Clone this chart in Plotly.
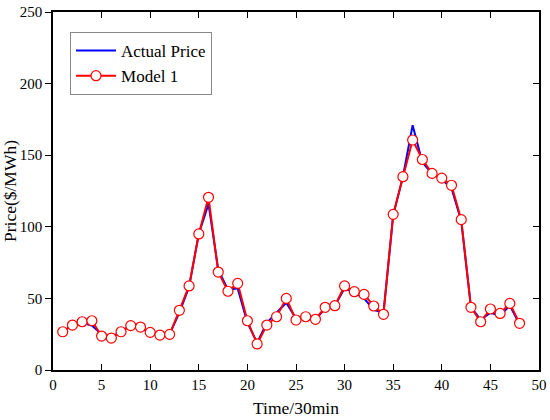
import plotly.graph_objects as go

# half-hour periods 1..48
periods = list(range(1, 49))

actual_price = [
    27, 31, 33, 31, 25, 23, 27, 31, 29, 27, 24, 25,
    40, 58, 95, 116, 70, 56, 57, 33, 19, 33, 40, 47,
    36, 38, 35, 43, 45, 57, 54, 50, 42, 40, 108, 135,
    171, 145, 137, 133, 127, 104, 44, 35, 40, 38, 45, 32,
]

model_1 = [
    26.7, 31.4, 33.7, 34.4, 23.7, 22.3, 26.7, 31.0, 30.0, 26.3, 24.4, 24.9,
    41.7, 58.7, 95.0, 120.6, 68.4, 55.0, 60.5, 34.4, 18.2, 31.4, 37.2, 50.0,
    34.9, 37.2, 35.4, 43.8, 44.9, 58.7, 54.7, 52.8, 44.7, 38.9, 108.7, 135.0,
    160.6, 147.0, 137.3, 134.0, 129.0, 105.0, 43.8, 33.7, 42.6, 39.5, 46.5, 32.6,
]

FONT = "Liberation Serif, Times New Roman, serif"

fig = go.Figure()
fig.add_trace(go.Scatter(
    x=periods, y=actual_price, name="Actual Price", mode="lines",
    line=dict(color="#0000ff", width=2),
))
fig.add_trace(go.Scatter(
    x=periods, y=model_1, name="Model 1", mode="lines+markers",
    line=dict(color="#ff0000", width=2),
    marker=dict(symbol="circle", size=10, color="white",
                line=dict(color="#ff0000", width=1.2)),
))
# invisible trace to carry right-hand inward ticks
fig.add_trace(go.Scatter(x=[None], y=[None], yaxis="y2", showlegend=False, hoverinfo="skip"))

fig.update_layout(
    width=550, height=420,
    paper_bgcolor="white", plot_bgcolor="white",
    font=dict(family=FONT, size=15, color="black"),
    margin=dict(l=53, r=11, t=12, b=50),
    showlegend=True,
    legend=dict(
        x=0.035, y=0.944, xanchor="left", yanchor="top",
        bgcolor="white", bordercolor="#888888", borderwidth=1,
        font=dict(family=FONT, size=17),
        tracegroupgap=0, itemwidth=40,
    ),
    xaxis=dict(
        range=[0, 50], dtick=5, tick0=0, automargin=False,
        ticks="inside", ticklen=6, tickwidth=1.2, tickcolor="black",
        showline=True, linecolor="black", linewidth=1.5, mirror="ticks",
        showgrid=False, zeroline=False,
        title=dict(text="Time/30min", font=dict(family=FONT, size=17.5), standoff=10),
        tickfont=dict(family=FONT, size=15),
    ),
    yaxis=dict(
        range=[0, 250], dtick=50, tick0=0, automargin=False,
        ticks="outside", ticklen=6, tickwidth=1.2, tickcolor="black",
        showline=True, linecolor="black", linewidth=1.5, mirror=True,
        showgrid=False, zeroline=False,
        title=dict(text="Price($/MWh)", font=dict(family=FONT, size=17.5), standoff=6),
        tickfont=dict(family=FONT, size=15),
    ),
    yaxis2=dict(
        overlaying="y", side="right", range=[0, 250], dtick=50, tick0=0,
        automargin=False,
        ticks="inside", ticklen=6, tickwidth=1.2, tickcolor="black",
        showticklabels=False, showgrid=False, zeroline=False, showline=False,
    ),
)

# drop the browser's default body margin so the figure sits at the page corner
fig.write_html(
    "out.html",
    config={"displayModeBar": False},
    post_script="document.body.style.margin='0';",
)
